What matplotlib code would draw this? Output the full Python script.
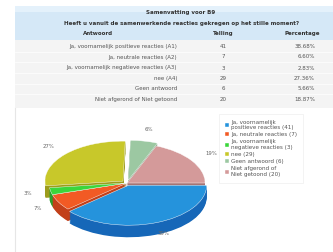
import matplotlib
matplotlib.use("Agg")
import matplotlib.pyplot as plt
from matplotlib.patches import Rectangle

# ---- data ----
title = "Samenvatting voor B9"
question = "Heeft u vanuit de samenwerkende reacties gekregen op het stille moment?"
headers = ["Antwoord", "Telling", "Percentage"]
answers = ["Ja, voornamelijk positieve reacties (A1)",
           "Ja, neutrale reacties (A2)",
           "Ja, voornamelijk negatieve reacties (A3)",
           "nee (A4)",
           "Geen antwoord",
           "Niet afgerond of Niet getoond"]
counts = [41, 7, 3, 29, 6, 20]
percentages = ["38.68%", "6.60%", "2.83%", "27.36%", "5.66%", "18.87%"]
legend_labels = ["Ja, voornamelijk\npositieve reacties (41)",
                 "Ja, neutrale reacties (7)",
                 "Ja, voornamelijk\nnegatieve reacties (3)",
                 "nee (29)",
                 "Geen antwoord (6)",
                 "Niet afgerond of\nNiet getoond (20)"]
colors = ["#2593dc", "#f25a24", "#3bd63b", "#c8c82a", "#9cc8a2", "#d49a9a"]
side_colors = ["#1667b8", "#c2401a", "#2aa02a", "#9c9c1c", "#74a07a", "#a87474"]
explode = [0.06, 0.0, 0.0, 0.07, 0.07, 0.0]

W, H = 333, 252
fig = plt.figure(figsize=(W / 100, H / 100), dpi=100)
fig.patch.set_facecolor("white")
bg = fig.add_axes([0, 0, 1, 1])
bg.set_xlim(0, W)
bg.set_ylim(H, 0)
bg.axis("off")

# panel border
bg.plot([15, 15], [108, 252], color="#e6e6e6", lw=0.8)

# table header band
bg.add_patch(Rectangle((15, 6), 318, 34, color="#d5e8f7", lw=0))
bg.add_patch(Rectangle((15, 6), 318, 6, color="#e4f1fb", lw=0))
# data area
bg.add_patch(Rectangle((15, 40), 318, 68, color="#f4f4f4", lw=0))
row_y = [46.5, 57, 68, 78.5, 89, 99.5]
for y in row_y[:-1]:
    bg.plot([15, 333], [y + 5.2, y + 5.2], color="white", lw=0.5)

tc = "#333333"
fs = 4.0
bg.text(181, 12.5, title, ha="center", va="center", fontsize=fs, fontweight="bold", color=tc)
bg.text(182, 23.5, question, ha="center", va="center", fontsize=fs, fontweight="bold", color=tc)
bg.text(98, 33.5, headers[0], ha="center", va="center", fontsize=fs, fontweight="bold", color=tc)
bg.text(223, 33.5, headers[1], ha="center", va="center", fontsize=fs, fontweight="bold", color=tc)
bg.text(302, 33.5, headers[2], ha="center", va="center", fontsize=fs, fontweight="bold", color=tc)
for y, a, c, p in zip(row_y, answers, counts, percentages):
    bg.text(177, y, a, ha="right", va="center", fontsize=fs, color="#555555")
    bg.text(223, y, str(c), ha="center", va="center", fontsize=fs, color="#555555")
    bg.text(315, y, p, ha="right", va="center", fontsize=fs, color="#555555")

# ---- 3D-like pie ----
cx, cy, a, b = 127, 183, 78, 40
lim = 1.6
left = (cx - lim * a) / W
bottom = (H - (cy + lim * b)) / H
pax = fig.add_axes([left, bottom, 2 * lim * a / W, 2 * lim * b / H])
depth = 0.3
n = 14
for k in range(n, 0, -1):
    off = -depth * k / n
    pax.pie(counts, colors=side_colors, startangle=0, counterclock=False,
            explode=explode, center=(0, off),
            wedgeprops=dict(linewidth=0))
wedges, texts, autotexts = pax.pie(
    counts, colors=colors, startangle=0, counterclock=False,
    explode=explode, autopct="%.0f%%", pctdistance=1.3,
    textprops=dict(fontsize=3.9, color="#666666"),
    wedgeprops=dict(linewidth=0.3, edgecolor="white"))
pax.set_aspect("auto")
pax.set_xlim(-lim, lim)
pax.set_ylim(-lim, lim)
pax.axis("off")

leg = bg.legend(wedges, legend_labels, loc="upper left",
                bbox_to_anchor=(216, 111), bbox_transform=bg.transData,
                fontsize=4.1, frameon=True, handlelength=0.7, handleheight=0.7,
                handletextpad=0.5, labelspacing=0.35, borderpad=1.0,
                fancybox=False, shadow=False)
leg.get_frame().set_edgecolor("#eeeeee")
leg.get_frame().set_linewidth(0.6)
for t in leg.get_texts():
    t.set_color("#555555")

fig.savefig("out.png", dpi=100, facecolor="white")
